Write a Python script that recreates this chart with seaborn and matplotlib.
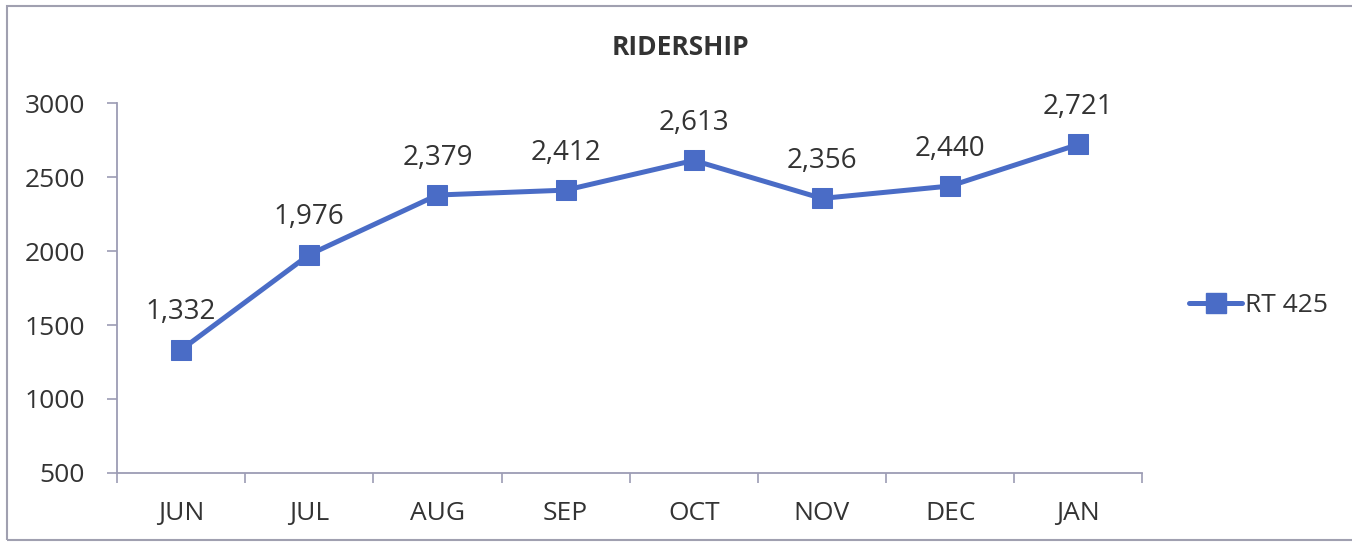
import matplotlib
matplotlib.use("Agg")
import matplotlib.pyplot as plt
import seaborn as sns
import pandas as pd
from matplotlib.patches import Rectangle
from matplotlib.ticker import FixedLocator

months = ["JUN", "JUL", "AUG", "SEP", "OCT", "NOV", "DEC", "JAN"]
riders = [1332, 1976, 2379, 2412, 2613, 2356, 2440, 2721]
series_name = "RT 425"
y_ticks = [500, 1000, 1500, 2000, 2500, 3000]

sns.set_theme(style="white")
plt.rcParams["font.family"] = ["Open Sans", "DejaVu Sans"]

TXT = "#333333"
AX = "#9c9cb4"
BLUE = "#4a6cc6"

df = pd.DataFrame({"pos": range(len(months)), "riders": riders, "series": series_name})

fig = plt.figure(figsize=(13.52, 5.43), dpi=100)
ax = fig.add_axes([0.0865, 0.129, 0.7585, 0.681])

sns.lineplot(data=df, x="pos", y="riders", hue="series", palette=[BLUE], ax=ax,
             marker="s", markersize=14, linewidth=3.6, markeredgecolor=BLUE,
             legend=False)

ax.set_xlim(-0.5, len(months) - 0.5)
ax.set_ylim(500, 3000)
ax.set_yticks(y_ticks)
ax.set_yticklabels([str(v) for v in y_ticks], fontsize=19, color=TXT)
ax.xaxis.set_major_locator(FixedLocator([i - 0.5 for i in range(len(months) + 1)]))
ax.xaxis.set_minor_locator(FixedLocator(list(range(len(months)))))
ax.set_xticklabels([""] * (len(months) + 1))
ax.set_xticklabels(months, minor=True, fontsize=19, color=TXT)
ax.tick_params(axis="x", which="major", direction="out", length=7, width=1.2, color=AX, bottom=True)
ax.tick_params(axis="x", which="minor", length=0, pad=20)
ax.tick_params(axis="y", direction="out", length=7, width=1.2, color=AX, left=True, pad=16)
ax.set_xlabel("")
ax.set_ylabel("")
for s in ["top", "right"]:
    ax.spines[s].set_visible(False)
for s in ["left", "bottom"]:
    ax.spines[s].set_color(AX)
    ax.spines[s].set_linewidth(1.3)

for i, v in enumerate(riders):
    ax.annotate(f"{v:,}", (i, v), xytext=(0, 27), textcoords="offset points",
                ha="center", va="center", fontsize=20, color=TXT)

fig.text(0.503, 0.912, "RIDERSHIP", ha="center", va="center", fontsize=19,
         fontweight="bold", color=TXT)

handle = plt.Line2D([], [], color=BLUE, marker="s", markersize=14, linewidth=3.6,
                    markeredgecolor=BLUE)
fig.legend([handle], [series_name], loc="center left", bbox_to_anchor=(0.862, 0.437),
           frameon=False, fontsize=19, handlelength=2.0, handletextpad=0.1,
           labelcolor=TXT)

fig.patches.append(Rectangle((7 / 1352, 3 / 543), 1.2, 1 - 9 / 543, transform=fig.transFigure,
                             fill=False, edgecolor="#a0a0b0", linewidth=1.5))

fig.savefig("out.png", dpi=100, facecolor="white")
